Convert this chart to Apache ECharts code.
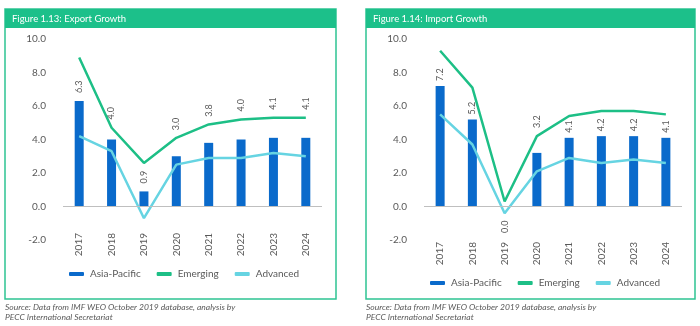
<!DOCTYPE html>
<html><head><meta charset="utf-8">
<script src="https://cdn.jsdelivr.net/npm/echarts@6/dist/echarts.min.js"></script>
<style>html,body{margin:0;padding:0;background:#fff;}#c{width:700px;height:326px;}</style>
</head><body><div id="c"></div>
<script>
var years = ['2017','2018','2019','2020','2021','2022','2023','2024'];
var yTicks = [-2, 0, 2, 4, 6, 8, 10];
var exportAsiaPacific = [6.3, 4.0, 0.9, 3.0, 3.8, 4.0, 4.1, 4.1];
var exportEmerging = [8.9, 4.7, 2.6, 4.1, 4.9, 5.2, 5.3, 5.3];
var exportAdvanced = [4.2, 3.3, -0.7, 2.5, 2.9, 2.9, 3.2, 3.0];
var importAsiaPacific = [7.2, 5.2, 0.0, 3.2, 4.1, 4.2, 4.2, 4.1];
var importEmerging = [9.3, 7.1, 0.3, 4.2, 5.4, 5.7, 5.7, 5.5];
var importAdvanced = [5.5, 3.7, -0.4, 2.1, 2.9, 2.6, 2.8, 2.6];
var titles = ['Figure 1.13: Export Growth', 'Figure 1.14: Import Growth'];
var sourceLines = ['Source: Data from IMF WEO October 2019 database, analysis by', 'PECC International Secretariat'];

var BLUE = '#0a6acb', GREEN = '#1dbf86', CYAN = '#66d4e2', GRAY = '#595959', FRAME = '#2ec493';
var FONT = 'Lato, "Open Sans", sans-serif';
var GRID_TOP = 39, GRID_BOTTOM = 86, H = 326;
var PX_PER_UNIT = (H - GRID_TOP - GRID_BOTTOM) / (yTicks[yTicks.length - 1] - yTicks[0]);

function yAxis(idx) {
  return {
    type: 'value', gridIndex: idx, min: yTicks[0], max: yTicks[yTicks.length - 1], interval: 2,
    axisLine: {show: false}, axisTick: {show: false}, splitLine: {show: false},
    axisLabel: {color: GRAY, fontSize: 10, fontFamily: FONT, margin: 17,
      formatter: function (v) { return v.toFixed(1); }}
  };
}
function xAxis(idx, margin) {
  return {
    type: 'category', gridIndex: idx, data: years, boundaryGap: true,
    axisLine: {show: false, onZero: false}, axisTick: {show: false},
    axisLabel: {rotate: 90, color: GRAY, fontSize: 10, fontFamily: FONT, margin: margin}
  };
}
// Labels that would collide with the line just above the bar are lifted above that line
function barData(vals, lineVals, base) {
  return vals.map(function (v, i) {
    if (v === 0) {
      return {value: v, label: {position: 'bottom', align: 'right', distance: 14}};
    }
    var diff = lineVals[i] - v;
    if (diff > 0 && diff <= 1.25) {
      return {value: v, label: {distance: Math.round(diff * PX_PER_UNIT) + 8}};
    }
    return {value: v, label: {distance: base}};
  });
}
function barSeries(idx, vals, lineVals, base) {
  return {
    name: 'Asia-Pacific', type: 'bar', xAxisIndex: idx, yAxisIndex: idx, data: barData(vals, lineVals, base),
    barWidth: 9, itemStyle: {color: BLUE},
    label: {show: true, position: 'top', rotate: 90, align: 'left', verticalAlign: 'middle',
      distance: base, color: GRAY, fontSize: 9, fontFamily: FONT,
      formatter: function (p) { return p.value.toFixed(1); }},
    markLine: {silent: true, symbol: 'none', label: {show: false},
      lineStyle: {color: '#bfbfbf', width: 1, type: 'solid'}, data: [{yAxis: 0}]},
    z: 2
  };
}
function lineSeries(idx, name, vals, color) {
  return {
    name: name, type: 'line', xAxisIndex: idx, yAxisIndex: idx, data: vals,
    symbol: 'none', lineStyle: {color: color, width: 2.5}, itemStyle: {color: color}, z: 3
  };
}
function legend(left, top) {
  return {
    left: left, top: top, itemWidth: 15, itemHeight: 4, itemGap: 16,
    icon: 'roundRect',
    textStyle: {color: GRAY, fontSize: 10, fontFamily: FONT, padding: [0, 0, 0, 1]},
    data: ['Asia-Pacific', 'Emerging', 'Advanced']
  };
}
function panel(x, w, title) {
  return [
    {type: 'rect', shape: {x: x, y: 9, width: w, height: 290}, style: {fill: '#fff', stroke: FRAME, lineWidth: 1.5}, z: -10},
    {type: 'rect', shape: {x: x, y: 9, width: w, height: 19}, style: {fill: '#1cc08a'}, z: -9},
    {type: 'text', x: x + 7, y: 18.5, style: {text: title, fill: '#fff', fontSize: 9.5, fontFamily: FONT, verticalAlign: 'middle'}, z: 10}
  ];
}
function source(x) {
  return sourceLines.map(function (t, i) {
    return {type: 'text', x: x, y: 307 + i * 10, style: {text: t, fill: GRAY, fontSize: 8.5, fontStyle: 'italic', fontFamily: FONT, verticalAlign: 'middle'}};
  });
}

var chart = echarts.init(document.getElementById('c'), null, {renderer: 'canvas'});
chart.setOption({
  animation: false,
  backgroundColor: '#fff',
  grid: [
    {left: 63, right: 378, top: GRID_TOP, bottom: GRID_BOTTOM},
    {left: 424, right: 18, top: GRID_TOP, bottom: GRID_BOTTOM}
  ],
  xAxis: [xAxis(0, -7), xAxis(1, 2)],
  yAxis: [yAxis(0), yAxis(1)],
  legend: [legend(64, 264), legend(425, 273)],
  series: [
    barSeries(0, exportAsiaPacific, exportEmerging, 8),
    lineSeries(0, 'Emerging', exportEmerging, GREEN),
    lineSeries(0, 'Advanced', exportAdvanced, CYAN),
    barSeries(1, importAsiaPacific, importEmerging, 5),
    lineSeries(1, 'Emerging', importEmerging, GREEN),
    lineSeries(1, 'Advanced', importAdvanced, CYAN)
  ],
  graphic: [].concat(panel(5, 331, titles[0]), panel(366, 329, titles[1]), source(5), source(366))
});
</script></body></html>
